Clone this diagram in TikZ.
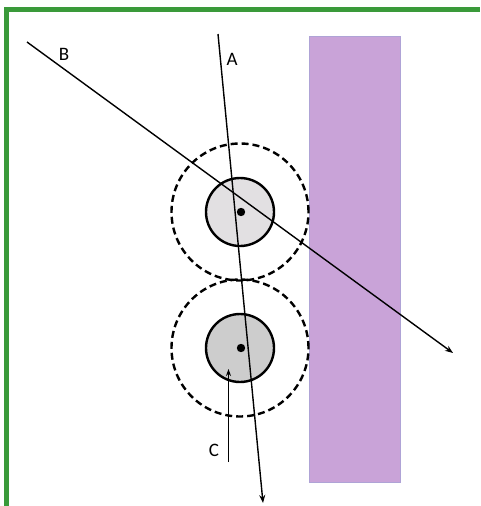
\documentclass[tikz,border=0pt]{standalone}
\usepackage{fontspec}
\setmainfont{Carlito}
\usetikzlibrary{arrows.meta}
\definecolor{frameg}{HTML}{3A9A3A}
\definecolor{wallp}{HTML}{C9A3D8}
\definecolor{wallb}{HTML}{AFA3D6}
\definecolor{fillA}{HTML}{E2E0E2}
\definecolor{fillB}{HTML}{CDCDCD}
\tikzset{
  ray/.style={line width=1.4pt,-{Stealth[length=8pt,width=6pt]}},
  core/.style={circle,draw,line width=2.4pt,minimum size=68pt,inner sep=0pt},
  halo/.style={circle,draw,dashed,dash pattern=on 7pt off 4pt,line width=2.4pt,minimum size=137pt,inner sep=0pt},
  lbl/.style={font=\fontsize{19}{19}\selectfont,inner sep=0pt}
}
\begin{document}
\begin{tikzpicture}[x=1pt,y=-1pt]
\useasboundingbox (0,0) rectangle (480,506);
% frame
\fill[frameg] (4,7) rectangle (480,12);
\fill[frameg] (4,7) rectangle (9,506);
% wall
\node[draw=wallb,fill=wallp,line width=0.8pt,minimum width=91pt,minimum height=446pt,inner sep=0pt] (wall) at (354.5,259) {};
% particles
\node[halo] (h1) at (240,212) {};
\node[halo] (h2) at (240,348) {};
\node[core,fill=fillA] (c1) at (240,212) {};
\node[core,fill=fillB] (c2) at (240,348) {};
\fill (241,212) circle (4.2);
\fill (241,348) circle (4.2);
% rays
\coordinate (Bs) at (27,42);
\coordinate (Be) at (453,353);
\coordinate (As) at (218,34);
\coordinate (Ae) at (263,503);
\coordinate (Cs) at (228.5,462);
\coordinate (Ce) at (228.5,369);
\draw[ray] (Bs) -- (Be);
\draw[ray] (As) -- (Ae);
\draw[line width=1.4pt,-{Stealth[length=7pt,width=5pt]}] (Cs) -- (Ce);
\node[lbl] (lB) at (64,54) {B};
\node[lbl] (lA) at (232,59) {A};
\node[lbl] (lC) at (214,450) {C};
\end{tikzpicture}
\end{document}
